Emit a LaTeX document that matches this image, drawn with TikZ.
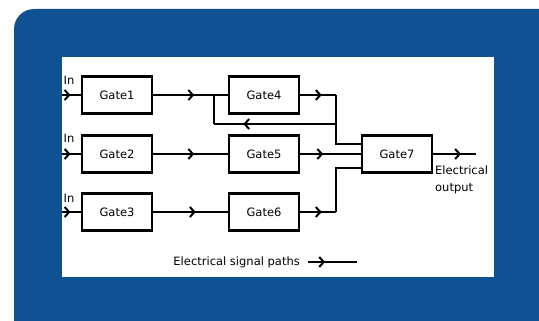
\documentclass[tikz,border=0pt]{standalone}
\usepackage{fontspec}
\setmainfont{DejaVu Sans}
\usepackage{tikz}
\usetikzlibrary{arrows.meta, decorations.markings}

\definecolor{panelblue}{RGB}{14,82,148}

\begin{document}
\begin{tikzpicture}[
    x=1pt, y=-1pt,
    gate/.style={draw, rectangle, line width=2.3pt, minimum width=70pt, minimum height=37pt, inner sep=0pt, fill=white, font=\fontsize{11.5}{13}\selectfont},
    wire/.style={line width=2pt},
    sig/.style={wire, postaction={decorate}, decoration={markings, mark=at position #1 with {\arrow{Straight Barb[length=4.5pt, width=10pt]}}}},
    lbl/.style={font=\fontsize{11.5}{17}\selectfont, inner sep=0pt}
]
    \clip (0,0) rectangle (539,321);

    % Panel and canvas
    \fill[panelblue, rounded corners=20pt] (14,9) rectangle (570,350);
    \fill[white] (62,57) rectangle (494,277);

    % Gates
    \node[gate] (g1) at (117,95) {Gate1};
    \node[gate] (g2) at (117,154) {Gate2};
    \node[gate] (g3) at (117,212) {Gate3};
    \node[gate] (g4) at (264,95) {Gate4};
    \node[gate] (g5) at (264,154) {Gate5};
    \node[gate] (g6) at (264,212) {Gate6};
    \node[gate] (g7) at (397,154) {Gate7};

    % Inputs
    \coordinate (in1) at (62,95);
    \coordinate (in2) at (62,154);
    \coordinate (in3) at (62,212);
    \node[lbl] (l1) at (69,80) {In};
    \node[lbl] (l2) at (69,138) {In};
    \node[lbl] (l3) at (69,198) {In};
    \draw[sig=0.45] (in1) -- (g1);
    \draw[sig=0.45] (in2) -- (g2);
    \draw[sig=0.45] (in3) -- (g3);

    % Junctions
    \coordinate (j1) at (214,95);
    \coordinate (f1) at (214,124);
    \coordinate (f2) at (336,124);
    \coordinate (j4) at (336,95);
    \coordinate (j6) at (336,212);
    \coordinate (a7) at (362,144);
    \coordinate (c7) at (362,168);
    \coordinate (out) at (476,154);

    % Signal paths
    \draw[sig=0.55] (g1) -- (g4);
    \draw[sig=0.55] (g2) -- (g5);
    \draw[sig=0.57] (g3) -- (g6);
    \draw[sig=0.6] (g4) -- (j4);
    \draw[wire] (j4) |- (a7);
    \draw[sig=0.76] (f2) -- (f1);
    \draw[wire] (f1) -- (j1);
    \draw[sig=0.38] (g5) -- (g7);
    \draw[sig=0.6] (g6) -- (j6);
    \draw[wire] (j6) |- (c7);
    \draw[sig=0.65] (g7) -- (out);
    \node[lbl, anchor=north west, align=left] (eo) at (435,166) {Electrical\\output};

    % Legend
    \node[lbl, anchor=east] (leg) at (300,262) {Electrical signal paths};
    \coordinate (legend) at (357,262);
    \draw[sig=0.44, shorten <=8pt] (leg) -- (legend);

\end{tikzpicture}
\end{document}
